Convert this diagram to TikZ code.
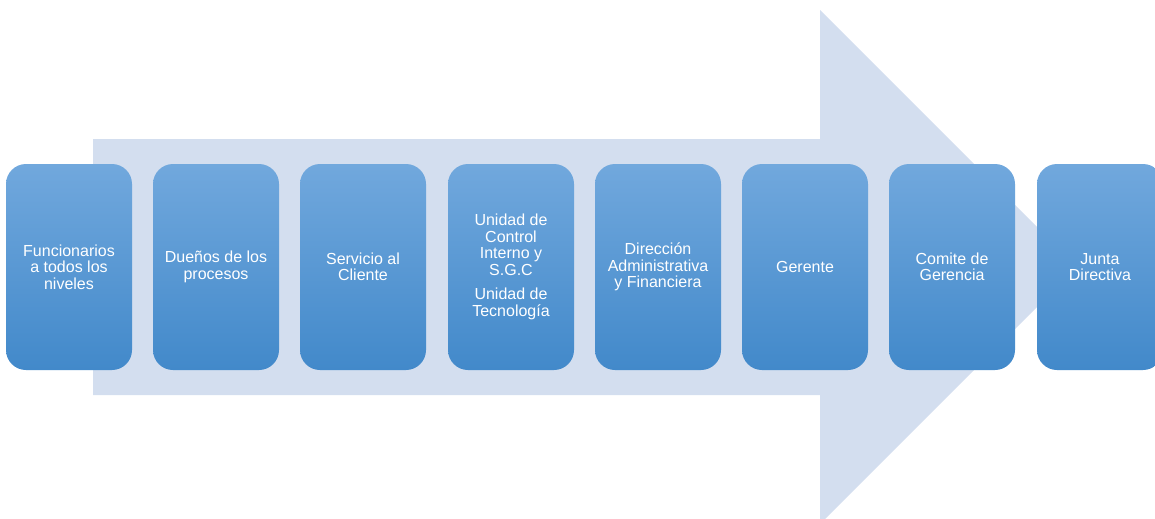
\documentclass[tikz,border=0pt]{standalone}
\usepackage{fontspec}
\setmainfont{Liberation Sans}
\definecolor{flecha}{RGB}{211,222,239}
\definecolor{cajaarriba}{RGB}{113,168,221}
\definecolor{cajaabajo}{RGB}{66,137,202}
\tikzset{
  nivel/.style={rounded corners=15pt, minimum width=94.5pt, minimum height=154.5pt,
    top color=cajaarriba, bottom color=cajaabajo, draw=none, text=white,
    align=center, inner sep=2pt, font=\fontsize{12}{12.4}\selectfont}
}
\newcommand{\Nivel}[3]{\node[nivel] (#1) at (#2,267) {#3};}

\begin{document}
\begin{tikzpicture}[x=0.75pt, y=-0.75pt]
\useasboundingbox (0,0) rectangle (1155,518);
\fill[flecha] (93,139) -- (820,139) -- (820,10) -- (1077,267) -- (820,524)
  -- (820,395) -- (93,395) -- cycle;

	\Nivel{N1}{69}{Funcionarios\\a todos los\\niveles}
	\Nivel{N2}{216}{Dueños de los\\procesos}
	\Nivel{N3}{363}{Servicio al\\Cliente}
	\Nivel{N4}{511}{Unidad de\\Control\\Interno y\\S.G.C\\[6pt]Unidad de\\Tecnología}
	\Nivel{N5}{658}{Dirección\\Administrativa\\y Financiera}
	\Nivel{N6}{805}{Gerente}
	\Nivel{N7}{952}{Comite de\\Gerencia}
	\Nivel{N8}{1100}{Junta\\Directiva}

\end{tikzpicture}
\end{document}
